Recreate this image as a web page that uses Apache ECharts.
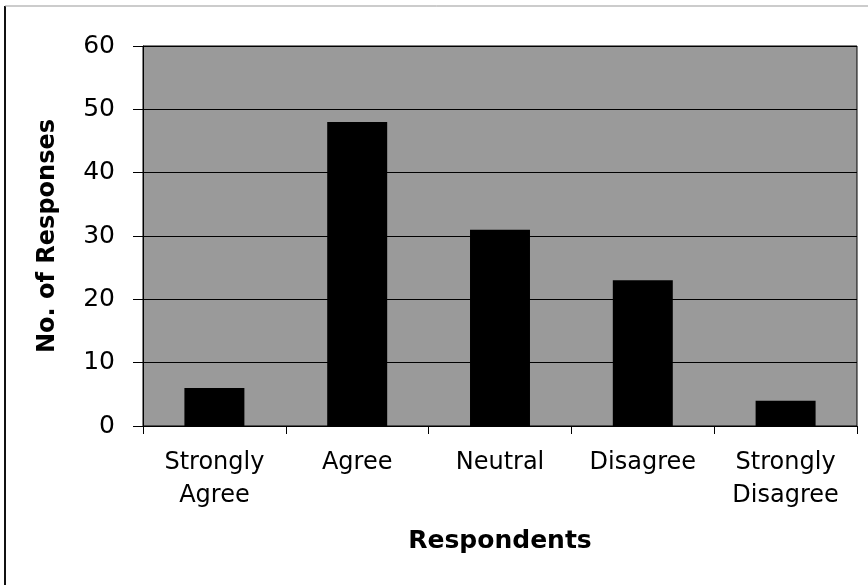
<!DOCTYPE html>
<html>
<head>
<meta charset="utf-8">
<script src="https://cdn.jsdelivr.net/npm/echarts@6/dist/echarts.min.js"></script>
<style>html,body{margin:0;padding:0;background:#fff;}#c{width:868px;height:585px;}</style>
</head>
<body>
<div id="c"></div>
<script>
var categories = ['Strongly\nAgree', 'Agree', 'Neutral', 'Disagree', 'Strongly\nDisagree'];
var responses = [6, 48, 31, 23, 4];
var yTicks = [0, 10, 20, 30, 40, 50, 60];

var chart = echarts.init(document.getElementById('c'), null, {renderer: 'canvas'});
var font = 'DejaVu Sans';
chart.setOption({
  animation: false,
  backgroundColor: '#ffffff',
  grid: {
    left: 143, right: 11, top: 46, bottom: 159,
    show: true, backgroundColor: '#9a9a9a', borderColor: '#000', borderWidth: 1
  },
  xAxis: {
    type: 'category',
    data: categories,
    name: 'Respondents',
    nameLocation: 'middle',
    nameGap: 103,
    nameTextStyle: {fontFamily: font, fontWeight: 'bold', fontSize: 25, color: '#000'},
    axisLine: {lineStyle: {color: '#000', width: 1}},
    axisTick: {show: true, length: 8, lineStyle: {color: '#000'}},
    axisLabel: {fontFamily: font, fontSize: 24, color: '#000', margin: 20, lineHeight: 33, interval: 0}
  },
  yAxis: {
    type: 'value',
    min: yTicks[0], max: yTicks[yTicks.length - 1], interval: 10,
    name: 'No. of Responses',
    nameLocation: 'middle',
    nameGap: 83,
    nameTextStyle: {fontFamily: font, fontWeight: 'bold', fontSize: 24, color: '#000'},
    axisLine: {show: true, lineStyle: {color: '#000', width: 1}},
    axisTick: {show: true, length: 10, lineStyle: {color: '#000'}},
    axisLabel: {fontFamily: font, fontSize: 25, color: '#000', margin: 28},
    splitLine: {show: true, lineStyle: {color: '#000', width: 1}}
  },
  series: [{
    type: 'bar',
    data: responses,
    barWidth: '42%',
    itemStyle: {color: '#000'}
  }],
  graphic: [
    {type: 'line', shape: {x1: 5, y1: 6, x2: 5, y2: 585}, style: {stroke: '#111', lineWidth: 2}},
    {type: 'line', shape: {x1: 5, y1: 6, x2: 868, y2: 6}, style: {stroke: '#999', lineWidth: 1}}
  ]
});
</script>
</body>
</html>
